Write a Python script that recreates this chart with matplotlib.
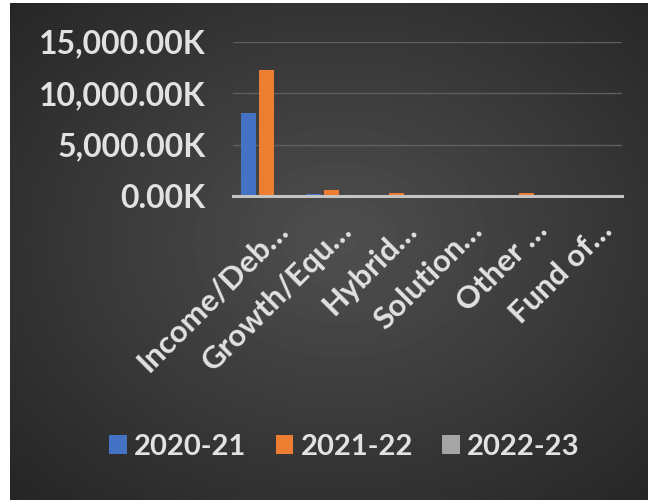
import numpy as np
import matplotlib
matplotlib.use('Agg')
import matplotlib.pyplot as plt
import matplotlib.transforms as mtransforms
from matplotlib.ticker import FuncFormatter

# AUM by scheme category, in thousands
categories = ['Income/Deb\u2026', 'Growth/Equ\u2026', 'Hybrid\u2026',
              'Solution\u2026', 'Other \u2026', 'Fund of\u2026']
years = ['2020-21', '2021-22', '2022-23']
aum_2020_21 = [8100, 150, 40, 5, 30, 5]
aum_2021_22 = [12200, 600, 300, 10, 280, 10]
aum_2022_23 = [0, 0, 0, 0, 0, 0]
yticks = [0, 5000, 10000, 15000]

colors = ['#4472C4', '#ED7D31', '#A5A5A5']
text_color = '#e2e2e2'
font = 'Lato'

W, H = 653, 503
fig = plt.figure(figsize=(W / 100, H / 100), dpi=100, facecolor='white')

# dark chart area with a soft radial highlight
bg = fig.add_axes([10 / W, 3 / H, 638 / W, 497 / H])
yy, xx = np.mgrid[0:497, 0:638]
r = np.sqrt(((xx - 330) / 420) ** 2 + ((yy - 240) / 330) ** 2)
shade = np.clip(0.31 - 0.15 * r, 0.14, 0.31)
bg.imshow(shade, cmap='gray', vmin=0, vmax=1, aspect='auto',
          interpolation='bilinear')
bg.axis('off')

ax = fig.add_axes([233 / W, (H - 196) / H, (622 - 233) / W, (196 - 41.5) / H])
ax.patch.set_alpha(0)

x = np.arange(len(categories))
width = 0.23
step = 0.28
series = [aum_2020_21, aum_2021_22, aum_2022_23]
for i, (vals, lab) in enumerate(zip(series, years)):
    ax.bar(x + (i - 1) * step + 0.02, vals, width, color=colors[i], label=lab,
           zorder=3)

ax.set_xlim(-0.5, len(categories) - 0.5)
ax.set_ylim(0, 15000)
ax.set_yticks(yticks)
ax.yaxis.set_major_formatter(FuncFormatter(lambda v, p: f'{v:,.2f}K'))
ax.grid(axis='y', color='#5e5e5e', linewidth=1, zorder=1)
for s in ['top', 'right', 'left']:
    ax.spines[s].set_visible(False)
ax.spines['bottom'].set_color('#c4c4c4')
ax.spines['bottom'].set_linewidth(2.2)
ax.spines['bottom'].set_zorder(4)
ax.tick_params(axis='y', length=0, pad=20, labelsize=23, labelcolor=text_color)
ax.tick_params(axis='x', length=0, labelbottom=False)
for t in ax.get_yticklabels():
    t.set_fontfamily(font)
    t.set_fontweight('bold')

# slanted category labels, ending just below-right of each group
offset = mtransforms.ScaledTranslation(24 / 100, -36 / 100, fig.dpi_scale_trans)
trans = mtransforms.blended_transform_factory(ax.transData, ax.transAxes) + offset
for xi, name in zip(x, categories):
    ax.text(xi, 0, name, transform=trans, rotation=45, ha='right',
            va='baseline', rotation_mode='anchor', fontsize=22.5,
            fontfamily=font, fontweight='bold', color=text_color)

leg = fig.legend(loc='center', bbox_to_anchor=(344.5 / W, (H - 447) / H),
                 ncol=3, frameon=False, handlelength=0.6, handleheight=0.6,
                 handletextpad=0.25, columnspacing=1.0,
                 prop={'family': font, 'weight': 'bold', 'size': 21})
for t in leg.get_texts():
    t.set_color(text_color)

fig.savefig('out.png', dpi=100, facecolor='white')
